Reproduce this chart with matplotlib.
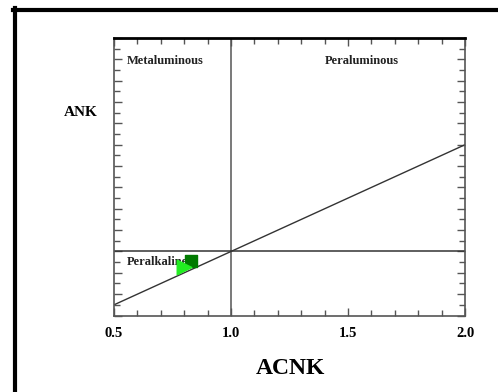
import matplotlib
matplotlib.use("Agg")
import matplotlib.pyplot as plt
from matplotlib.lines import Line2D
from matplotlib.ticker import MultipleLocator, FixedLocator

# Data
xlim = (0.5, 2.0)
ylim = (0.4, 3.0)
boundary_x = [1.0]
boundary_y = [1.0]
diag_x = [0.5, 2.0]
diag_y = [0.5, 2.0]
xtick_vals = [0.5, 1.0, 1.5, 2.0]
xtick_labels = ["0.5", "1.0", "1.5", "2.0"]
square_x = [0.827]
square_y = [0.915]
tri_x = [0.799]
tri_y = [0.858]
region_labels = ["Metaluminous", "Peraluminous", "Peralkaline"]
region_x = [0.555, 1.56, 0.555]
region_y = [2.78, 2.78, 0.905]

plt.rcParams['font.family'] = ['Liberation Serif', 'DejaVu Serif']

fig = plt.figure(figsize=(4.98, 3.92), dpi=100)
ax = fig.add_axes([114/498, 1 - 315.5/392, (465-114)/498, (315.5-38)/392])
ax.set_xlim(*xlim)
ax.set_ylim(*ylim)

grey = '#555555'
for s in ['left', 'right', 'bottom']:
    ax.spines[s].set_color(grey)
    ax.spines[s].set_linewidth(1.2)
ax.spines['top'].set_color('black')
ax.spines['top'].set_linewidth(2.0)

ax.xaxis.set_major_locator(FixedLocator(xtick_vals))
ax.set_xticklabels(xtick_labels, fontsize=10.5, fontweight='bold')
ax.xaxis.set_minor_locator(MultipleLocator(0.1))
ax.yaxis.set_major_locator(MultipleLocator(0.2))
ax.yaxis.set_minor_locator(MultipleLocator(0.1))
ax.tick_params(which='both', direction='in', top=True, right=True, color=grey, width=1.0)
ax.tick_params(which='major', length=6)
ax.tick_params(which='minor', length=4)
ax.tick_params(axis='y', labelleft=False)
ax.tick_params(axis='x', pad=8)

ax.axvline(boundary_x[0], color=grey, lw=1.1)
ax.axhline(boundary_y[0], color='#333333', lw=1.1)
ax.plot(diag_x, diag_y, color='#333333', lw=1.0)

for t, x, y in zip(region_labels, region_x, region_y):
    ax.text(x, y, t, fontsize=9, fontweight='bold', ha='left' if t != 'Peraluminous' else 'center',
            va='center', color='#222222')

ax.scatter(square_x, square_y, marker='s', s=80, color='#007a00', zorder=5)
ax.scatter(tri_x, tri_y, marker='>', s=110, color='#22ee22', zorder=6)

fig.text(81/498, 1 - 112/392, "ANK", fontsize=11, fontweight='bold', ha='center', va='center')
fig.text(290/498, 1 - 368/392, "ACNK", fontsize=17, fontweight='bold', ha='center', va='center')

# outer frame (top and left)
fig.add_artist(Line2D([13/498, 1], [1 - 10/392, 1 - 10/392], transform=fig.transFigure, color='black', lw=3))
fig.add_artist(Line2D([15/498, 15/498], [0, 1 - 8/392], transform=fig.transFigure, color='black', lw=3))

fig.savefig("out.png", dpi=100)
